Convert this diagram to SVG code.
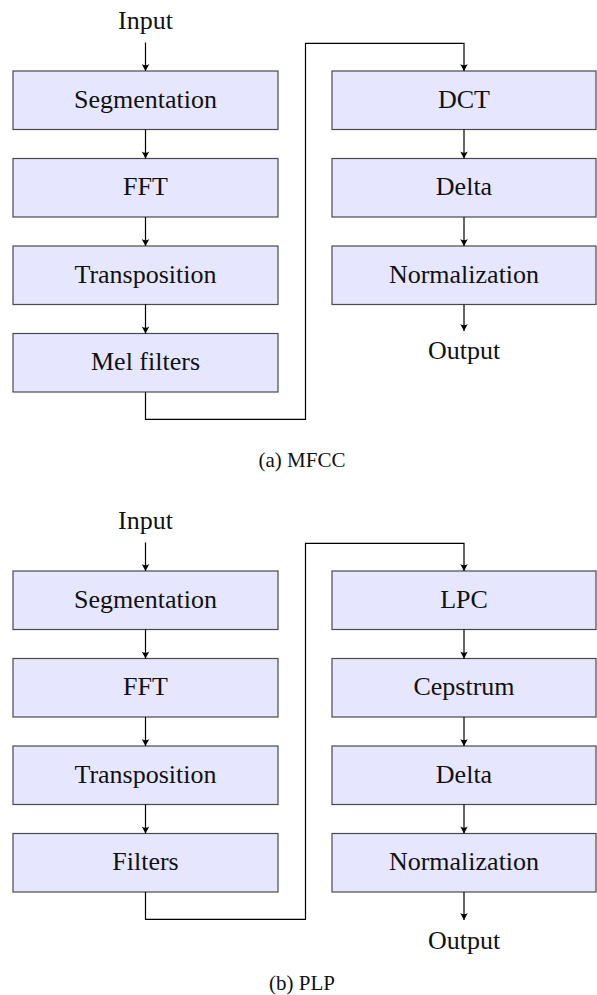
<svg xmlns="http://www.w3.org/2000/svg" width="597" height="995" viewBox="0 0 597 995">
<defs>
<marker id="ah" viewBox="-8 -5 9 10" refX="0" refY="0" markerWidth="9" markerHeight="10" markerUnits="userSpaceOnUse" orient="auto">
<path d="M0,0 L-7,-3.8 Q-4.5,0 -7,3.8 Z" fill="#000"/>
</marker>
<style>
.box{fill:#e6e6ff;stroke:#4a4a4a;stroke-width:1.2}
.a{fill:none;stroke:#000;stroke-width:1.2;marker-end:url(#ah)}
</style>
</defs>
<rect width="597" height="995" fill="#fff"/>

<g font-family="Liberation Serif, serif" font-size="26" fill="#111" text-anchor="middle">
<!-- (a) MFCC -->
<g id="a_input"><text x="145.5" y="29.3">Input</text></g>
<g id="a_seg"><rect class="box" x="13" y="71" width="265" height="58.5"/><text x="145.5" y="107.5">Segmentation</text></g>
<g id="a_fft"><rect class="box" x="13" y="158.5" width="265" height="58.5"/><text x="145.5" y="195">FFT</text></g>
<g id="a_trans"><rect class="box" x="13" y="246" width="265" height="58.5"/><text x="145.5" y="282.5">Transposition</text></g>
<g id="a_mel"><rect class="box" x="13" y="333.5" width="265" height="58.5"/><text x="145.5" y="370">Mel filters</text></g>
<g id="a_dct"><rect class="box" x="332" y="71" width="264" height="58.5"/><text x="464" y="107.5">DCT</text></g>
<g id="a_delta"><rect class="box" x="332" y="158.5" width="264" height="58.5"/><text x="464" y="195">Delta</text></g>
<g id="a_norm"><rect class="box" x="332" y="246" width="264" height="58.5"/><text x="464" y="282.5">Normalization</text></g>
<g id="a_output"><text x="464" y="359">Output</text></g>
<g id="a_caption"><text x="302" y="466.7" font-size="21">(a) MFCC</text></g>

<!-- (b) PLP -->
<g id="b_input"><text x="145.5" y="529.3">Input</text></g>
<g id="b_seg"><rect class="box" x="13" y="571" width="265" height="58.5"/><text x="145.5" y="607.5">Segmentation</text></g>
<g id="b_fft"><rect class="box" x="13" y="658.5" width="265" height="58.5"/><text x="145.5" y="695">FFT</text></g>
<g id="b_trans"><rect class="box" x="13" y="746" width="265" height="58.5"/><text x="145.5" y="782.5">Transposition</text></g>
<g id="b_filt"><rect class="box" x="13" y="833.5" width="265" height="58.5"/><text x="145.5" y="870">Filters</text></g>
<g id="b_lpc"><rect class="box" x="332" y="571" width="264" height="58.5"/><text x="464" y="607.5">LPC</text></g>
<g id="b_cep"><rect class="box" x="332" y="658.5" width="264" height="58.5"/><text x="464" y="695">Cepstrum</text></g>
<g id="b_delta"><rect class="box" x="332" y="746" width="264" height="58.5"/><text x="464" y="782.5">Delta</text></g>
<g id="b_norm"><rect class="box" x="332" y="833.5" width="264" height="58.5"/><text x="464" y="870">Normalization</text></g>
<g id="b_output"><text x="464" y="949">Output</text></g>
<g id="b_caption"><text x="302" y="990" font-size="21">(b) PLP</text></g>
</g>

<g id="connectors">
<path class="a" d="M145.5,42.5 V71"/>
<path class="a" d="M145.5,129.5 V158.5"/>
<path class="a" d="M145.5,217 V246"/>
<path class="a" d="M145.5,304.5 V333.5"/>
<path class="a" d="M145.5,392 V419.3 H305.5 V43.3 H464 V71"/>
<path class="a" d="M464,129.5 V158.5"/>
<path class="a" d="M464,217 V246"/>
<path class="a" d="M464,304.5 V331"/>

<path class="a" d="M145.5,542.5 V571"/>
<path class="a" d="M145.5,629.5 V658.5"/>
<path class="a" d="M145.5,717 V746"/>
<path class="a" d="M145.5,804.5 V833.5"/>
<path class="a" d="M145.5,892 V919.3 H305.5 V543.3 H464 V571"/>
<path class="a" d="M464,629.5 V658.5"/>
<path class="a" d="M464,717 V746"/>
<path class="a" d="M464,804.5 V833.5"/>
<path class="a" d="M464,892 V920"/>
</g>
</svg>
